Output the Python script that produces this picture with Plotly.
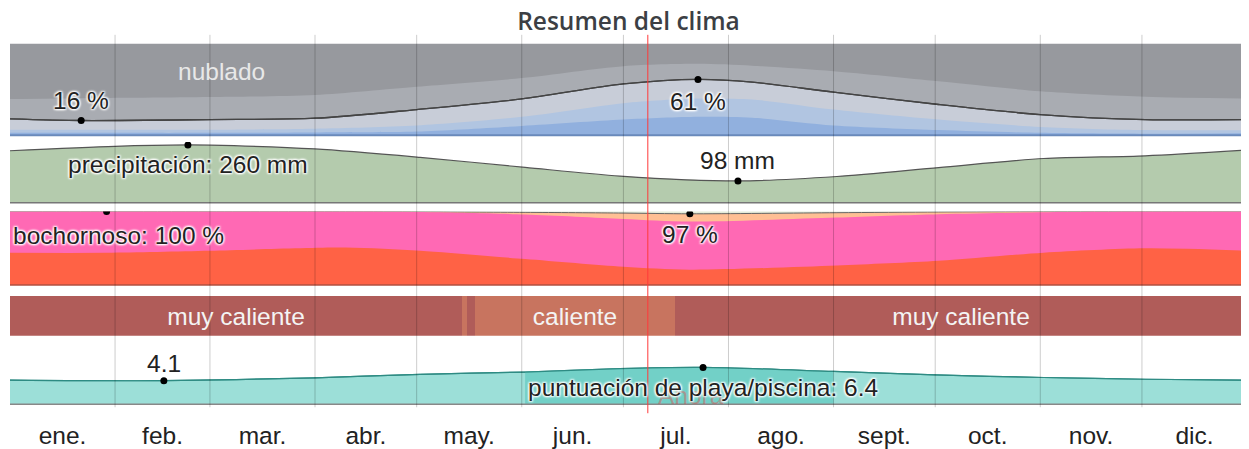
import plotly.graph_objects as go

# The page body adds an 8px margin around the figure; compensate for it.
PAGE_OFFSET = 8
W, H = 1249 - PAGE_OFFSET, 449 - PAGE_OFFSET

# ---------------- data ----------------
MONTHS = ["ene.", "feb.", "mar.", "abr.", "may.", "jun.", "jul.", "ago.", "sept.", "oct.", "nov.", "dic."]
MONTH_MID = [15.5, 45, 74.5, 105, 135.5, 166, 196.5, 227.5, 258, 288.5, 319, 349.5]
MONTH_EDGES = [31, 59, 90, 120, 151, 181, 212, 243, 273, 304, 334]
TODAY = 188.2

# cloud cover (cumulative % from bottom)
CLOUD_DAYS = [0, 21, 59, 90, 120, 151, 181, 203, 219, 243, 274, 304, 335, 365]
CLEAR_TOP = [2.5, 2.5, 2.5, 3, 4, 10, 17, 20, 19, 10.5, 5.5, 2.5, 1.5, 2]
MOSTLY_CLEAR_TOP = [6, 6, 6, 7, 10.5, 20, 35, 40, 39, 28, 17, 9, 5.5, 5.5]
PARTLY_CLOUDY_TOP = [17.8, 16, 17, 18.5, 28, 39.6, 56, 61, 58, 47, 33.5, 22.5, 17, 17]
MOSTLY_CLOUDY_TOP = [39.6, 40.5, 41.8, 44, 53, 62.5, 75.5, 78, 76, 70, 59, 48, 42, 40]
CLOUD_MARK_IDX = [1, 7]

# precipitation (mm)
PRECIP_DAYS = [0, 31, 52.5, 59, 90, 121, 152, 180, 214.8, 244, 274, 305, 335, 365]
PRECIP_MM = [234, 254, 260, 259, 242, 204, 159, 120, 98, 118, 158, 199, 211, 237]
PRECIP_MARK_IDX = [2, 8]

# humidity comfort (cumulative %)
HUM_DAYS = [0, 28.5, 59, 99, 121, 152, 181, 200.6, 244, 274, 305, 335, 365]
OPPRESSIVE_TOP = [44, 44, 46.7, 51, 46.7, 35.5, 25, 21, 26.7, 33, 44, 50, 46.7]
MUGGY_TOP = [100, 100, 100, 100, 99.3, 96, 90, 86.5, 92, 96.5, 99, 100, 100]
HUMID_TOTAL = [100, 100, 100, 100, 99.8, 99, 98, 97, 98.5, 99.5, 100, 100, 100]
HUM_MARK_IDX = [1, 7]

# temperature categories
TEMP_START = [0, 133.3, 134.8, 137.2, 196.2]
TEMP_END = [133.3, 134.8, 137.2, 196.2, 365]
TEMP_CAT = ["muy caliente", "caliente", "muy caliente", "caliente", "muy caliente"]
TEMP_LABEL = ["muy caliente", "", "", "caliente", "muy caliente"]

# beach / pool score
BEACH_DAYS = [0, 45.4, 90, 121, 152, 180, 204.5, 243, 273, 305, 335, 365]
BEACH_SCORE = [4.2, 4.1, 4.6, 5.2, 5.6, 6.2, 6.4, 5.7, 5.1, 4.65, 4.35, 4.2]
BEACH_BEST_IDX = (4, 7)
BEACH_MARK_IDX = [1, 6]

# ---------------- layout helpers ----------------
def py(p):
    """paper y for a pixel row p of the target image"""
    return 1 - (p - PAGE_OFFSET) / H

FONT = "Liberation Sans"
LSIZE = 24.5
SHADOW = "1px 1px 2px #fff, -1px -1px 2px #fff, 1px -1px 2px #fff, -1px 1px 2px #fff"
TXT = "#222"

fig = go.Figure()

def area(x, y, yaxis, color, line_color=None, lw=0):
    fig.add_trace(go.Scatter(
        x=x, y=y, yaxis=yaxis, mode="lines", fill="tozeroy", fillcolor=color,
        line=dict(color=line_color or color, width=lw, shape="spline", smoothing=0.8),
        hoverinfo="skip", showlegend=False))

def marks(x, y, idx, yaxis):
    fig.add_trace(go.Scatter(
        x=[x[i] for i in idx], y=[y[i] for i in idx], yaxis=yaxis, mode="markers",
        marker=dict(color="black", size=7), hoverinfo="skip", showlegend=False))

# cloud band (y)
area(CLOUD_DAYS, MOSTLY_CLOUDY_TOP, "y", "#a9acb2")
area(CLOUD_DAYS, PARTLY_CLOUDY_TOP, "y", "#c8cdd8", "#444", 1.3)
area(CLOUD_DAYS, MOSTLY_CLEAR_TOP, "y", "#b1c5e1")
area(CLOUD_DAYS, CLEAR_TOP, "y", "#91b0de")
fig.add_trace(go.Scatter(x=CLOUD_DAYS, y=PARTLY_CLOUDY_TOP, yaxis="y", mode="lines",
                         line=dict(color="#444", width=1.3, shape="spline", smoothing=0.8),
                         hoverinfo="skip", showlegend=False))
marks(CLOUD_DAYS, PARTLY_CLOUDY_TOP, CLOUD_MARK_IDX, "y")

# precipitation band (y2)
area(PRECIP_DAYS, PRECIP_MM, "y2", "#b4cbad", "#555", 1.2)
marks(PRECIP_DAYS, PRECIP_MM, PRECIP_MARK_IDX, "y2")

# humidity band (y3)
area(HUM_DAYS, HUMID_TOTAL, "y3", "#ffbf94", "#666", 1)
area(HUM_DAYS, MUGGY_TOP, "y3", "#ff69b4")
area(HUM_DAYS, OPPRESSIVE_TOP, "y3", "#ff6245")
marks(HUM_DAYS, HUMID_TOTAL, HUM_MARK_IDX, "y3")

# temperature band (y4)
TEMP_COLORS = {"muy caliente": "#b05c59", "caliente": "#c8745f"}
fig.add_trace(go.Bar(
    orientation="h", y=[0.5] * len(TEMP_START),
    x=[e - s for s, e in zip(TEMP_START, TEMP_END)], base=TEMP_START,
    width=1, yaxis="y4",
    marker=dict(color=[TEMP_COLORS[c] for c in TEMP_CAT], line=dict(width=0)),
    text=TEMP_LABEL, textposition="inside", insidetextanchor="middle", textangle=0,
    insidetextfont=dict(color="#f4f4f4", size=LSIZE, family=FONT),
    hoverinfo="skip", showlegend=False))

# beach band (y5)
area(BEACH_DAYS, BEACH_SCORE, "y5", "#9cdfd8", "#2e8b83", 1.2)
b0, b1 = BEACH_BEST_IDX
area(BEACH_DAYS[b0:b1 + 1], BEACH_SCORE[b0:b1 + 1], "y5", "#72d0c7")
fig.add_trace(go.Scatter(x=BEACH_DAYS, y=BEACH_SCORE, yaxis="y5", mode="lines",
                         line=dict(color="#2e8b83", width=1.2, shape="spline", smoothing=0.8),
                         hoverinfo="skip", showlegend=False))
marks(BEACH_DAYS, BEACH_SCORE, BEACH_MARK_IDX, "y5")

# ---------------- shapes ----------------
shapes = []
shapes.append(dict(type="rect", xref="paper", x0=0, x1=1, yref="y domain", y0=0, y1=1,
                   fillcolor="#97999e", line=dict(width=0), layer="below"))
shapes.append(dict(type="rect", xref="paper", x0=0, x1=1, yref="y3 domain", y0=0, y1=1,
                   fillcolor="#e3ecda", line=dict(width=0), layer="below"))
shapes.append(dict(type="line", xref="paper", x0=0, x1=1, yref="y domain", y0=0, y1=0,
                   line=dict(color="#6a8abb", width=2), layer="above"))
shapes.append(dict(type="line", xref="paper", x0=0, x1=1, yref="y2 domain", y0=0, y1=0,
                   line=dict(color="#777", width=1.5), layer="above"))
shapes.append(dict(type="line", xref="paper", x0=0, x1=1, yref="y3 domain", y0=0, y1=0,
                   line=dict(color="#b05040", width=1.5), layer="above"))
shapes.append(dict(type="line", xref="paper", x0=0, x1=1, yref="y5 domain", y0=0, y1=0,
                   line=dict(color="#888", width=1.5), layer="above"))
for d in MONTH_EDGES:
    shapes.append(dict(type="line", xref="x", x0=d, x1=d, yref="paper", y0=py(410), y1=py(35),
                       line=dict(color="rgba(0,0,0,0.2)", width=1), layer="above"))
shapes.append(dict(type="line", xref="x", x0=TODAY, x1=TODAY, yref="paper", y0=py(416), y1=py(35),
                   line=dict(color="#ff3a3a", width=1), layer="above"))

# ---------------- annotations ----------------
def ann(text, x, y, yref, yshift=0, xanchor="center", color=TXT, size=LSIZE, shadow=SHADOW):
    return dict(text=text, x=x, y=y, xref="x", yref=yref, yshift=yshift, xanchor=xanchor,
                yanchor="middle", showarrow=False,
                font=dict(family=FONT, size=size, color=color, shadow=shadow))

anns = []
anns.append(ann("nublado", 62.5, 69.6, "y", color="#e8e8e8", shadow="none"))
i0, i1 = CLOUD_MARK_IDX
anns.append(ann(f"{PARTLY_CLOUDY_TOP[i0]:.0f} %", CLOUD_DAYS[i0], PARTLY_CLOUDY_TOP[i0], "y", 20))
anns.append(ann(f"{PARTLY_CLOUDY_TOP[i1]:.0f} %", CLOUD_DAYS[i1], PARTLY_CLOUDY_TOP[i1], "y", -22))
i0, i1 = PRECIP_MARK_IDX
anns.append(ann(f"precipitación: {PRECIP_MM[i0]:.0f} mm", PRECIP_DAYS[i0], PRECIP_MM[i0], "y2", -20))
anns.append(ann(f"{PRECIP_MM[i1]:.0f} mm", PRECIP_DAYS[i1], PRECIP_MM[i1], "y2", 20))
i0, i1 = HUM_MARK_IDX
anns.append(ann(f"bochornoso: {HUMID_TOTAL[i0]:.0f} %", 0.4, HUMID_TOTAL[i0], "y3", -24, xanchor="left"))
anns.append(ann(f"{HUMID_TOTAL[i1]:.0f} %", HUM_DAYS[i1], HUMID_TOTAL[i1], "y3", -21))
anns.append(ann("Ahora", TODAY + 2.5, 1.55, "y5", xanchor="left", color="rgba(255,40,40,0.35)", shadow="none"))
i0, i1 = BEACH_MARK_IDX
anns.append(ann(f"{BEACH_SCORE[i0]:.1f}", BEACH_DAYS[i0], BEACH_SCORE[i0], "y5", 17))
anns.append(ann(f"puntuación de playa/piscina: {BEACH_SCORE[i1]:.1f}", BEACH_DAYS[i1], BEACH_SCORE[i1], "y5", -20))

# ---------------- axes ----------------
def yax(top, bottom, rng):
    return dict(domain=[py(bottom), py(top)], range=rng, visible=False, fixedrange=True, anchor="x")

fig.update_layout(
    width=W, height=H,
    margin=dict(l=10 - PAGE_OFFSET, r=2, t=0, b=0),
    paper_bgcolor="white", plot_bgcolor="rgba(0,0,0,0)",
    hovermode=False, showlegend=False,
    title=dict(text="Resumen del clima", x=0.5, xref="paper", y=py(21), yref="container",
               xanchor="center", yanchor="middle",
               font=dict(family="Open Sans", size=24.5, color="#3c3f44", weight=600)),
    xaxis=dict(range=[0, 365], anchor="free", position=py(421), showgrid=False, zeroline=False,
               showline=False, ticks="", tickvals=MONTH_MID, ticktext=MONTHS,
               tickfont=dict(family=FONT, size=LSIZE, color=TXT), fixedrange=True),
    yaxis=yax(44, 136, [0, 100]),
    yaxis2=yax(143, 204, [0, 273]),
    yaxis3=yax(213, 287, [0, 100]),
    yaxis4=yax(298, 338, [0, 1]),
    yaxis5=yax(349, 407, [0, 10]),
    shapes=shapes, annotations=anns,
    bargap=0,
)

fig.write_html("out.html")
